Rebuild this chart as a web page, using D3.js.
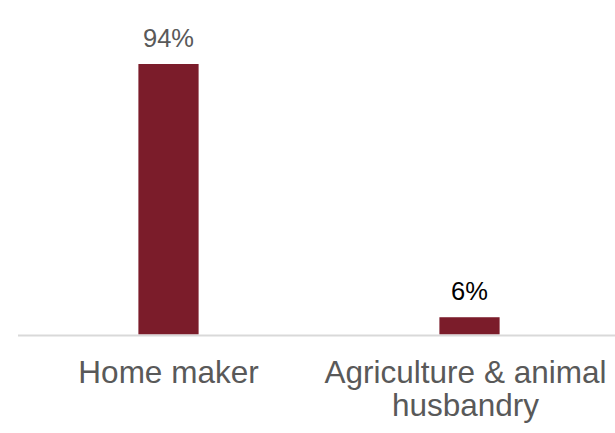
<!DOCTYPE html>
<html>
<head>
<meta charset="utf-8">
<script src="https://cdn.jsdelivr.net/npm/d3@7"></script>
<style>
  html, body { margin: 0; padding: 0; background: #fff; }
  svg { display: block; }
</style>
</head>
<body>
<svg id="chart" width="615" height="433"></svg>
<script>
// Occupation shares
const categories = ["Home maker", "Agriculture & animal husbandry"];
const categoryLines = [["Home maker"], ["Agriculture & animal", "husbandry"]];
const values = [94, 6];
const valueLabels = ["94%", "6%"];
const labelColors = ["#595959", "#000000"];

const W = 615, H = 433;
const baseY = 334.5;
const svg = d3.select("#chart");

const x = d3.scaleBand()
  .domain(categories)
  .range([18, 620])
  .paddingInner(0.8)
  .paddingOuter(0.4);

const y = d3.scaleLinear()
  .domain([0, 94])
  .range([baseY, 64]);

// bars
svg.append("g").selectAll("rect")
  .data(values)
  .join("rect")
  .attr("x", (d, i) => x(categories[i]))
  .attr("width", x.bandwidth())
  .attr("y", d => y(d))
  .attr("height", d => y(0) - y(d))
  .attr("fill", "#7b1c2a");

// baseline
svg.append("line")
  .attr("x1", 18).attr("x2", 615)
  .attr("y1", baseY + 1).attr("y2", baseY + 1)
  .attr("stroke", "#d9d9d9")
  .attr("stroke-width", 2);

// value labels
svg.append("g").selectAll("text")
  .data(values)
  .join("text")
  .attr("x", (d, i) => x(categories[i]) + x.bandwidth() / 2)
  .attr("y", d => y(d) - 17)
  .attr("text-anchor", "middle")
  .attr("font-family", "Liberation Sans, Arial, sans-serif")
  .attr("font-size", "25.5px")
  .attr("fill", (d, i) => labelColors[i])
  .text((d, i) => valueLabels[i]);

// category labels
const cat = svg.append("g").selectAll("text")
  .data(categories)
  .join("text")
  .attr("text-anchor", "middle")
  .attr("font-family", "Liberation Sans, Arial, sans-serif")
  .attr("font-size", "31.5px")
  .attr("fill", "#595959")
  .attr("transform", (d) => `translate(${x(d) + x.bandwidth() / 2 - (d === categories[1] ? 4 : 0)},383)`);

cat.selectAll("tspan")
  .data((d, i) => categoryLines[i])
  .join("tspan")
  .attr("x", 0)
  .attr("dy", (d, j) => j === 0 ? 0 : 33)
  .text(d => d);
</script>
</body>
</html>
